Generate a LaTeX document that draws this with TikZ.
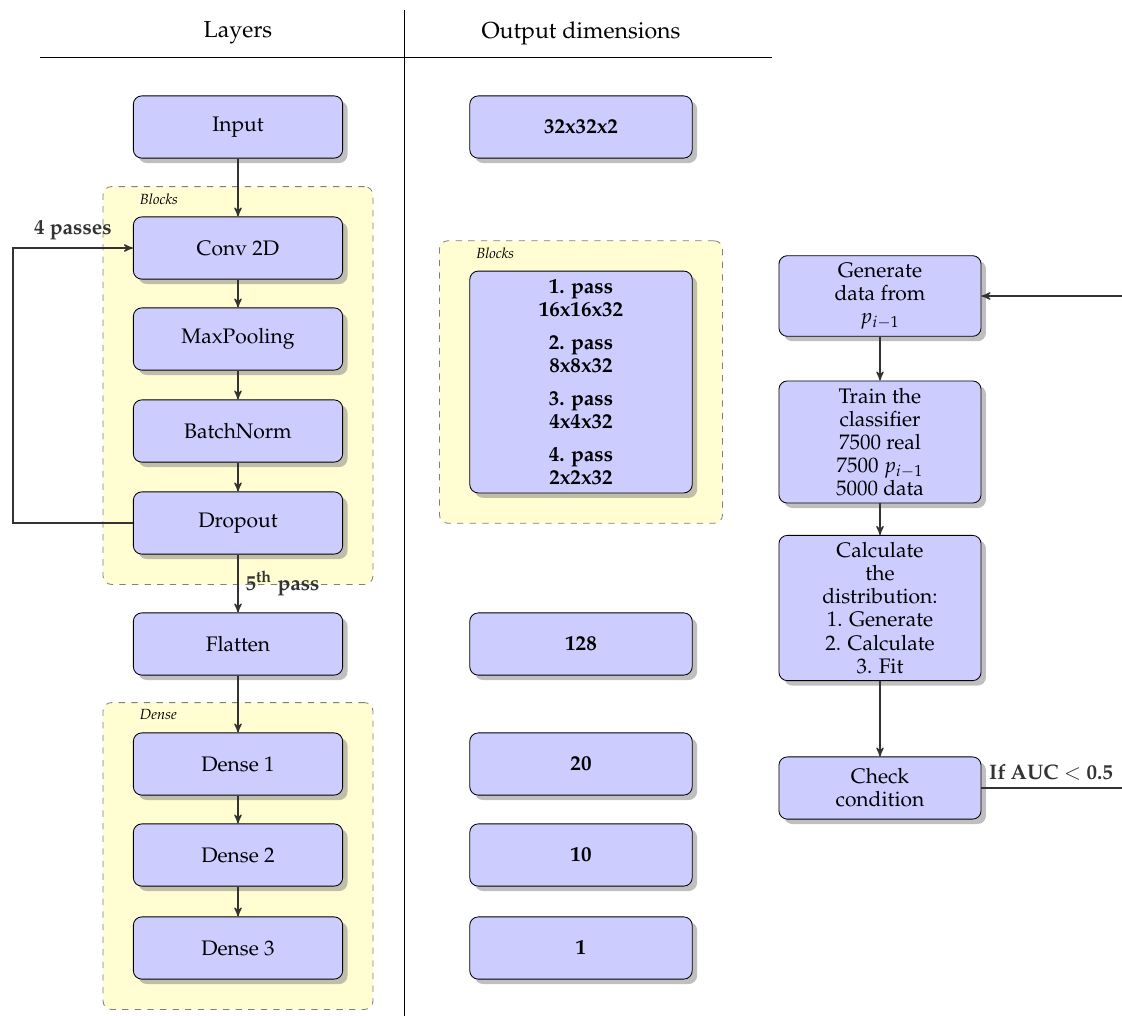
\documentclass[tikz,border=0pt]{standalone}
\usepackage[T1]{fontenc}
\usepackage{mathpazo}
\usepackage{amsmath}
\usetikzlibrary{arrows,shadows,fit,backgrounds}

\tikzset{
  layer/.style={draw, fill=blue!20, rounded corners, drop shadow,
    minimum width=3.5cm, minimum height=1.04cm, align=center,
    font=\fontsize{10}{11}\selectfont},
  dimbox/.style={layer, minimum width=3.72cm, font=\fontsize{10}{11}\selectfont\bfseries},
  stepbox/.style={layer, minimum width=3.38cm},
  group/.style={draw=black!50, dashed, fill=yellow!18, rounded corners, inner sep=0.5cm},
  grouptag/.style={font=\scriptsize\itshape, anchor=north west},
  flow/.style={semithick, black!80, ->, >=stealth'},
  heading/.style={font=\fontsize{11}{13}\selectfont}
}

\begin{document}
\begin{tikzpicture}[x=0.01673cm, y=-0.01673cm]
\useasboundingbox (0,0) rectangle (1122,1016);

% table head
\node[heading] (hlayers) at (238,33) {Layers};
\node[heading] (hdims) at (581,33) {Output dimensions};
\draw (404,10) -- (404,1016);
\draw (40,57) -- (772,57);

% layers
\node[layer] (input) at (238,127) {Input};
\node[layer] (conv) at (238,248) {Conv 2D};
\node[layer] (pool) at (238,339) {MaxPooling};
\node[layer] (norm) at (238,431) {BatchNorm};
\node[layer] (drop) at (238,523) {Dropout};
\node[layer] (flat) at (238,644) {Flatten};
\node[layer] (dense1) at (238,764) {Dense 1};
\node[layer] (dense2) at (238,855) {Dense 2};
\node[layer] (dense3) at (238,948) {Dense 3};

% output dimensions
\node[dimbox, minimum height=3.71cm] (dpass) at (581,382) {1. pass\\16x16x32\\[4.7pt]
  2. pass\\8x8x32\\[4.7pt] 3. pass\\4x4x32\\[4.7pt] 4. pass\\2x2x32};
\node[dimbox] (dinput) at (581,127) {32x32x2};
\node[dimbox] (dflat) at (581,644) {128};
\node[dimbox] (ddense1) at (581,764) {20};
\node[dimbox] (ddense2) at (581,855) {10};
\node[dimbox] (ddense3) at (581,948) {1};

% procedure
\node[stepbox] (gen) at (880,296) {Generate\\data from\\$p_{i-1}$};
\node[stepbox] (train) at (880,442) {Train the\\classifier\\7500 real\\7500 $p_{i-1}$\\5000 data};
\node[stepbox] (calc) at (880,608) {Calculate\\the\\distribution:\\1. Generate\\2. Calculate\\3. Fit};
\node[stepbox] (check) at (880,788) {Check\\condition};
\coordinate (back) at (1150,0);

% groups
\begin{scope}[on background layer]
\node[group, fit=(conv)(drop)] (blocks) {};
\node[group, fit=(dense1)(dense3)] (dense) {};
\node[group, fit=(dpass)] (dblocks) {};
\end{scope}
\node[grouptag] (blockstag) at ([xshift=0.5cm]blocks.north west) {Blocks};
\node[grouptag] (densetag) at ([xshift=0.5cm]dense.north west) {Dense};
\node[grouptag] (dblockstag) at ([xshift=0.5cm]dblocks.north west) {Blocks};

% arrows
\draw[flow] (input) -- (conv);
\foreach \a/\b in {conv/pool,pool/norm,norm/drop,flat/dense1,dense1/dense2,dense2/dense3}
  \draw[flow] (\a) -- (\b);
\draw[flow] (drop) -- node[right, font=\bfseries] {5\textsuperscript{th} pass} (flat);
\draw[flow] (drop.west) -- ++(-120,0) |- node[pos=0.75, above, font=\bfseries] {4 passes} (conv.west);

\foreach \a/\b in {gen/train,train/calc,calc/check}
  \draw[flow] (\a) -- (\b);
\draw[flow] (check.east) -- node[pos=0, anchor=south west, font=\bfseries] {If AUC $<$ 0.5}
  (check.east -| back) |- (gen.east);

\end{tikzpicture}
\end{document}
